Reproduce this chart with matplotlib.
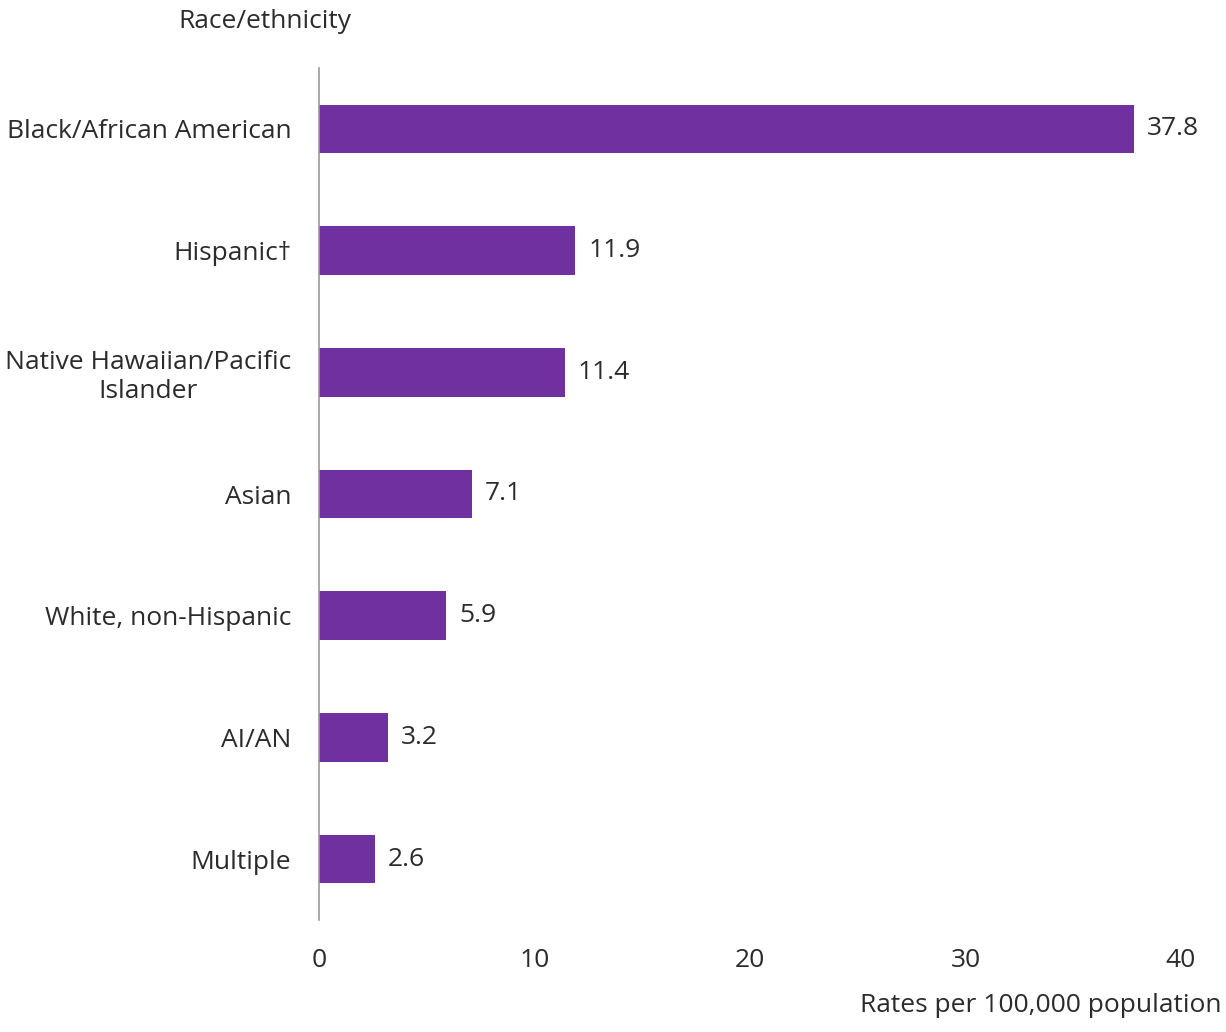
import matplotlib.pyplot as plt

plt.rcParams['font.family'] = ['Open Sans', 'DejaVu Sans']

# data
groups = ['Black/African American', 'Hispanic\u2020', 'Native Hawaiian/Pacific\nIslander',
          'Asian', 'White, non-Hispanic', 'AI/AN', 'Multiple']
rates = [37.8, 11.9, 11.4, 7.1, 5.9, 3.2, 2.6]
xticks = [0, 10, 20, 30, 40]

fs = 19
tc = '#2b2b2b'

fig = plt.figure(figsize=(12.26, 10.32), dpi=100)
ax = fig.add_axes([319 / 1226, 1 - 920 / 1032, (1181 - 319) / 1226, (920 - 68) / 1032])

y = list(range(len(groups)))
ax.barh(y, rates, height=0.4, color='#7030A0')
ax.set_ylim(len(groups) - 0.5, -0.5)
ax.set_xlim(0, 40)

for yi, r in zip(y, rates):
    ax.text(r + 0.6, yi, f'{r:.1f}', va='center', ha='left', fontsize=fs, color=tc)

ax.set_yticks(y)
ax.set_yticklabels(groups, fontsize=fs, color=tc, ha='right', multialignment='center')
ax.set_xticks(xticks)
ax.set_xticklabels([str(t) for t in xticks], fontsize=fs, color=tc)
ax.tick_params(axis='both', length=0)
ax.tick_params(axis='y', pad=20)
ax.tick_params(axis='x', pad=20)

for s in ['top', 'right', 'bottom']:
    ax.spines[s].set_visible(False)
ax.spines['left'].set_color('#999999')
ax.spines['left'].set_linewidth(1.2)

fig.text(265 / 1226, 1 - 21 / 1032, 'Race/ethnicity', ha='center', va='center', fontsize=fs, color=tc)
fig.text(1222 / 1226, 1 - 1006 / 1032, 'Rates per 100,000 population', ha='right', va='center',
         fontsize=fs, color=tc)

fig.savefig('out.png', dpi=100, facecolor='white')
